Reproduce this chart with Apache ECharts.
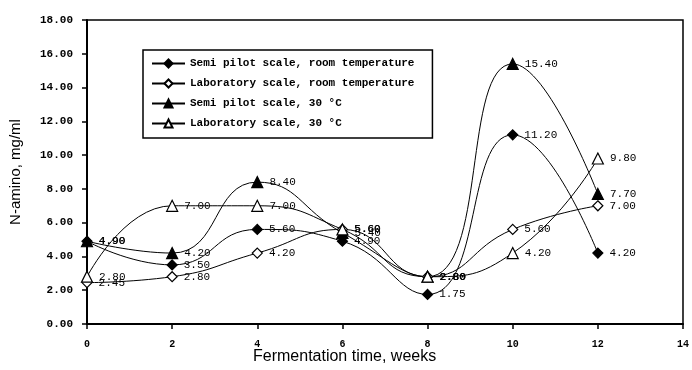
<!DOCTYPE html>
<html><head><meta charset="utf-8">
<script src="https://cdn.jsdelivr.net/npm/echarts@6/dist/echarts.min.js"></script>
<style>html,body{margin:0;padding:0;background:#fff}#c{width:692px;height:370px}</style>
</head><body><div id="c"></div>
<script>
const weeks = [0, 2, 4, 6, 8, 10, 12];
const semiPilotRoom = [4.90, 3.50, 5.60, 4.90, 1.75, 11.20, 4.20];
const labRoom = [2.45, 2.80, 4.20, 5.60, 2.80, 5.60, 7.00];
const semiPilot30 = [4.90, 4.20, 8.40, 5.40, 2.80, 15.40, 7.70];
const lab30 = [2.80, 7.00, 7.00, 5.60, 2.80, 4.20, 9.80];
const seriesNames = ['Semi pilot scale, room temperature', 'Laboratory scale, room temperature', 'Semi pilot scale, 30 \u00B0C', 'Laboratory scale, 30 \u00B0C'];
const yTicks = [0, 2, 4, 6, 8, 10, 12, 14, 16, 18];
const xTicks = [0, 2, 4, 6, 8, 10, 12, 14];

const chart = echarts.init(document.getElementById('c'));
const mono = 'Liberation Mono';
function mk(name, vals, symbol, filled, size) {
  return {
    name: name, type: 'line', smooth: 0.5,
    data: weeks.map((w, i) => [w, vals[i]]),
    symbol: symbol, symbolSize: size,
    lineStyle: { color: '#000', width: 1 },
    itemStyle: { color: filled ? '#000' : '#fff', borderColor: '#000', borderWidth: 1.2 },
    label: { show: true, position: 'right', distance: 6, color: '#000', fontFamily: mono, fontSize: 11,
      formatter: p => p.value[1].toFixed(2) },
    emphasis: { disabled: true }, z: 3
  };
}
chart.setOption({
  animation: false,
  grid: { left: 87, right: 6, top: 20, bottom: 46, show: true, borderColor: '#000', borderWidth: 1.5 },
  legend: {
    orient: 'vertical', left: 143, top: 50,
    padding: [8, 18, 9, 8], itemGap: 9, itemWidth: 33, itemHeight: 10,
    borderColor: '#000', borderWidth: 1.5, backgroundColor: '#fff',
    textStyle: { fontFamily: mono, fontWeight: 'bold', fontSize: 11, color: '#000' },
    data: seriesNames
  },
  xAxis: {
    type: 'value', min: 0, max: 14, interval: 2,
    axisLine: { lineStyle: { color: '#000', width: 2 } },
    axisTick: { show: true, length: 5, lineStyle: { color: '#000', width: 1.5 } },
    axisLabel: { color: '#000', fontFamily: mono, fontWeight: 'bold', fontSize: 10, margin: 15,
      formatter: v => xTicks.includes(v) ? String(v) : '' },
    splitLine: { show: false }
  },
  yAxis: {
    type: 'value', min: 0, max: 18, interval: 2,
    name: 'N-amino, mg/ml', nameLocation: 'middle', nameGap: 64,
    nameTextStyle: { color: '#000', fontFamily: 'Liberation Sans', fontSize: 15 },
    axisLine: { show: true, lineStyle: { color: '#000', width: 2 } },
    axisTick: { show: true, length: 5, lineStyle: { color: '#000', width: 1.5 } },
    axisLabel: { color: '#000', fontFamily: mono, fontWeight: 'bold', fontSize: 11, margin: 14,
      formatter: v => yTicks.includes(v) ? v.toFixed(2) : '' },
    splitLine: { show: false }
  },
  graphic: [{ type: 'text', left: 253, top: 349,
    style: { text: 'Fermentation time, weeks', font: '16px Liberation Sans', fill: '#000' } }],
  series: [
    mk(seriesNames[0], semiPilotRoom, 'diamond', true, 10),
    mk(seriesNames[1], labRoom, 'diamond', false, 10),
    mk(seriesNames[2], semiPilot30, 'triangle', true, 11),
    mk(seriesNames[3], lab30, 'triangle', false, 11)
  ]
});
</script></body></html>
